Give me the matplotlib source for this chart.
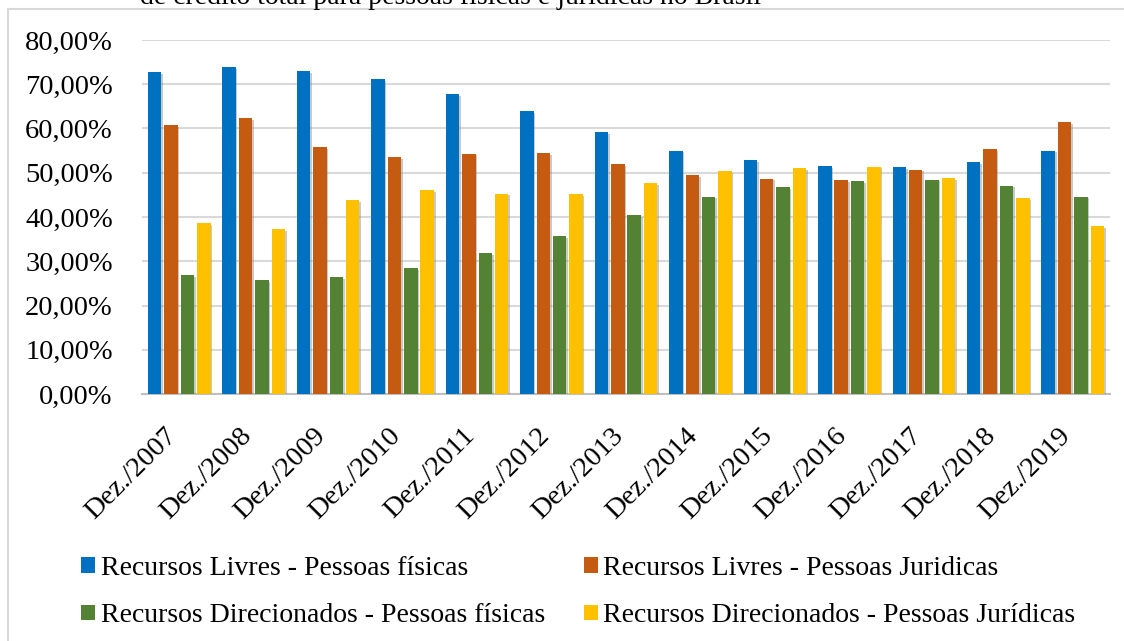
import numpy as np
import matplotlib
matplotlib.use("Agg")
import matplotlib.pyplot as plt
import matplotlib.transforms as mtransforms
from matplotlib.ticker import FuncFormatter, MultipleLocator
from matplotlib import patheffects as pe
from matplotlib.lines import Line2D
from matplotlib.patches import Patch

plt.rcParams["font.family"] = ["Liberation Serif", "DejaVu Serif"]

# Participação no saldo de crédito total (%)
periodos = ["Dez./2007", "Dez./2008", "Dez./2009", "Dez./2010", "Dez./2011",
            "Dez./2012", "Dez./2013", "Dez./2014", "Dez./2015", "Dez./2016",
            "Dez./2017", "Dez./2018", "Dez./2019"]

livres_pf = [72.7, 73.9, 73.0, 71.1, 67.8, 63.9, 59.2, 55.0, 52.8, 51.5, 51.2, 52.4, 55.0]
livres_pj = [60.8, 62.3, 55.8, 53.5, 54.3, 54.5, 51.9, 49.4, 48.7, 48.3, 50.7, 55.3, 61.5]
direc_pf = [26.8, 25.7, 26.4, 28.5, 31.8, 35.6, 40.4, 44.6, 46.8, 48.1, 48.4, 47.1, 44.6]
direc_pj = [38.6, 37.2, 43.8, 46.1, 45.3, 45.1, 47.6, 50.3, 51.0, 51.4, 48.8, 44.2, 38.0]

series = [
    ("Recursos Livres - Pessoas físicas", livres_pf, "#0070C0"),
    ("Recursos Livres - Pessoas Juridicas", livres_pj, "#C55A11"),
    ("Recursos Direcionados - Pessoas físicas", direc_pf, "#548235"),
    ("Recursos Direcionados - Pessoas Jurídicas", direc_pj, "#FFC000"),
]

W, H = 1124, 641
fig = plt.figure(figsize=(W / 100, H / 100), dpi=100)
fig.patch.set_facecolor("white")

ax = fig.add_axes([142 / W, 1 - 394 / H, (1110 - 142) / W, (394 - 40) / H])

x = np.arange(len(periodos))
step = 0.22
width = 0.18
shadow = [pe.SimplePatchShadow(offset=(1.2, -1.2), shadow_rgbFace="#888888", alpha=0.45),
          pe.Normal()]
for i, (nome, vals, cor) in enumerate(series):
    bars = ax.bar(x + (i - 1.5) * step, np.array(vals) / 100, width=width,
                  color=cor, label=nome, zorder=3)
    for b in bars:
        b.set_path_effects(shadow)

ax.set_xlim(-0.5, len(periodos) - 0.5)
ax.set_ylim(0, 0.80)
ax.yaxis.set_major_locator(MultipleLocator(0.10))
ax.yaxis.set_major_formatter(FuncFormatter(lambda v, p: f"{v * 100:.2f}%".replace(".", ",")))
ax.grid(axis="y", color="#D9D9D9", linewidth=1.5, zorder=0)
ax.set_axisbelow(True)
for s in ["top", "right", "left"]:
    ax.spines[s].set_visible(False)
ax.spines["bottom"].set_color("#BFBFBF")
ax.spines["bottom"].set_linewidth(1.5)
ax.tick_params(axis="y", length=0, pad=21, labelsize=20.5)
ax.tick_params(axis="x", length=0, pad=4, labelsize=20.5)
ax.set_xticks(x)
ax.set_xticklabels(periodos, rotation=45, ha="right", va="top", rotation_mode="anchor")
offset = mtransforms.ScaledTranslation(-15 / 100, -24 / 100, fig.dpi_scale_trans)
for lbl in ax.get_xticklabels():
    lbl.set_transform(lbl.get_transform() + offset)

# Moldura da figura
fig.add_artist(Line2D([8 / W, 1], [1 - 9 / H, 1 - 9 / H], color="#D9D9D9", lw=1.5))
fig.add_artist(Line2D([8 / W, 8 / W], [0, 1 - 9 / H], color="#D9D9D9", lw=1.5))

# Título (parte inferior)
fig.text(140 / W, 1 - 4.5 / H, "de crédito total para pessoas físicas e jurídicas no Brasil",
         fontsize=20, ha="left", va="baseline")

# Legenda em duas colunas, preenchida por linhas
ordem = [0, 2, 1, 3]
handles = [Patch(facecolor=series[k][2], edgecolor="none") for k in ordem]
fig.legend(handles=handles, labels=[series[k][0] for k in ordem],
           ncol=2, loc="upper left", bbox_to_anchor=(70 / W, 1 - 545 / H),
           frameon=False, fontsize=20, handlelength=0.5, handleheight=0.5,
           handletextpad=0.2, columnspacing=1.4, labelspacing=0.8, borderaxespad=0)

fig.savefig("out.png", dpi=100)
